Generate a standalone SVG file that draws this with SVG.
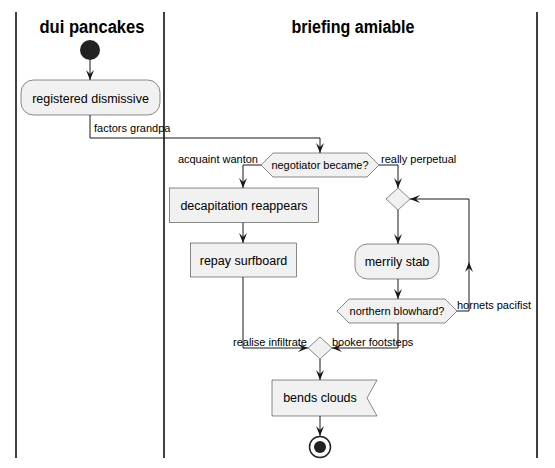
<svg xmlns="http://www.w3.org/2000/svg" width="555" height="468" viewBox="0 0 555 468">
<defs>
<marker id="arr" markerUnits="userSpaceOnUse" viewBox="0 0 10 8" refX="10" refY="4" markerWidth="10" markerHeight="8" orient="auto">
<path d="M0,0 L10,4 L0,8 L4,4 Z" fill="#181818"/>
</marker>
</defs>
<style>
.lane{stroke:#000;stroke-width:1.5}
.title{font-family:"Liberation Sans",Arial,sans-serif;font-size:18px;font-weight:bold;fill:#000;text-anchor:middle}
.node{fill:#F1F1F1;stroke:#181818;stroke-width:0.5}
.nt{font-family:"Liberation Sans",Arial,sans-serif;font-size:12.5px;fill:#000;text-anchor:middle}
.dt{font-family:"Liberation Sans",Arial,sans-serif;font-size:11px;fill:#000;text-anchor:middle}
.lbl{font-family:"Liberation Sans",Arial,sans-serif;font-size:11px;fill:#000}
.edge{fill:none;stroke:#181818;stroke-width:1;marker-end:url(#arr)}
</style>
<rect width="555" height="468" fill="#FFFFFF"/>
<g id="lanes">
<line class="lane" x1="16" y1="12" x2="16" y2="458"/>
<line class="lane" x1="164" y1="12" x2="164" y2="458"/>
<line class="lane" x1="537" y1="12" x2="537" y2="458"/>
<text class="title" x="92" y="32.5" textLength="105" lengthAdjust="spacingAndGlyphs">dui pancakes</text>
<text class="title" x="353" y="32.5" textLength="123" lengthAdjust="spacingAndGlyphs">briefing amiable</text>
</g>
<g id="connectors">
<path class="edge" d="M90,60 L90,80"/>
<path class="edge" d="M90,115 L90,138 L320,138 L320,153"/>
<text class="lbl" x="94" y="132">factors grandpa</text>
<path class="edge" d="M261,165 L243,165 L243,188"/>
<text class="lbl" x="258" y="163" text-anchor="end">acquaint wanton</text>
<path class="edge" d="M379,165 L398,165 L398,188"/>
<text class="lbl" x="381" y="163">really perpetual</text>
<path class="edge" d="M243,222.5 L243,243"/>
<path class="edge" d="M243,277 L243,348 L308,348"/>
<text class="lbl" x="307" y="346" text-anchor="end">realise infiltrate</text>
<path class="edge" d="M398,210 L398,244"/>
<path class="edge" d="M398,279 L398,299"/>
<path class="edge" d="M457,311 L469,311 L469,262"/>
<path class="edge" d="M469,262 L469,199 L410,199"/>
<text class="lbl" x="457" y="309">hornets pacifist</text>
<path class="edge" d="M398,323 L398,348 L332,348"/>
<text class="lbl" x="332" y="346">booker footsteps</text>
<path class="edge" d="M320,359 L320,380"/>
<path class="edge" d="M320,416 L320,436"/>
</g>
<g id="start"><circle cx="90" cy="50" r="10" fill="#222222"/></g>
<g id="registered-dismissive">
<rect class="node" x="21" y="80" width="139" height="35" rx="12.5"/>
<text class="nt" x="90.5" y="102.5">registered dismissive</text>
</g>
<g id="negotiator-became">
<polygon class="node" points="261,165 273,153 367,153 379,165 367,177 273,177"/>
<text class="dt" x="320" y="169">negotiator became?</text>
</g>
<g id="decapitation-reappears">
<rect class="node" x="169.5" y="188" width="149" height="34.5"/>
<text class="nt" x="244" y="209.5">decapitation reappears</text>
</g>
<g id="repay-surfboard">
<rect class="node" x="190.5" y="243" width="106" height="34"/>
<text class="nt" x="243.5" y="264.5">repay surfboard</text>
</g>
<g id="loop-merge">
<polygon class="node" points="398,188 410,199 398,210 386,199"/>
</g>
<g id="merrily-stab">
<rect class="node" x="355" y="244" width="84" height="35" rx="12.5"/>
<text class="nt" x="397" y="266">merrily stab</text>
</g>
<g id="northern-blowhard">
<polygon class="node" points="337,311 349,299 445,299 457,311 445,323 349,323"/>
<text class="dt" x="397" y="315">northern blowhard?</text>
</g>
<g id="merge">
<polygon class="node" points="320,337 332,348 320,359 308,348"/>
</g>
<g id="bends-clouds">
<polygon class="node" points="272,380 377,380 367,398 377,416 272,416"/>
<text class="nt" x="320" y="402">bends clouds</text>
</g>
<g id="end">
<circle cx="320" cy="447" r="10.5" fill="none" stroke="#222222" stroke-width="1.5"/>
<circle cx="320" cy="447" r="6" fill="#222222"/>
</g>
</svg>
